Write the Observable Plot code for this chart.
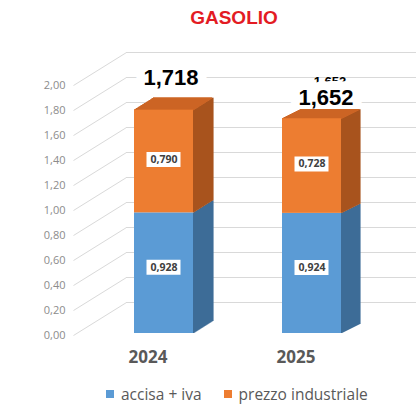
<!DOCTYPE html>
<html>
<head>
<meta charset="utf-8">
<script src="https://cdn.jsdelivr.net/npm/d3@7"></script>
<script src="https://cdn.jsdelivr.net/npm/@observablehq/plot@0.6"></script>
<style>
  html, body { margin: 0; padding: 0; background: #ffffff; }
  #wrap { position: relative; width: 416px; height: 404px; overflow: hidden; font-family: "Open Sans", sans-serif; }
  #title { position: absolute; left: 0; top: 6px; width: 468px; text-align: center; font-family: "Liberation Sans", Arial, sans-serif; font-weight: bold; font-size: 19px; color: #e31b23; line-height: 24px; }
  .layer { position: absolute; left: 0; top: 30px; }
  #legend { position: absolute; left: 106px; top: 384px; display: flex; align-items: center; font-size: 15.5px; color: #595959; line-height: 20px; white-space: nowrap; }
  .item { display: flex; align-items: center; margin-right: 22px; }
  .sw { width: 8px; height: 8px; margin-right: 7px; }
</style>
</head>
<body>
<div id="wrap">
  <div id="title"></div>
  <div id="back" class="layer"></div>
  <div id="front" class="layer"></div>
  <div id="legend"></div>
</div>
<script>
// ---- data ----
const chartTitle = "GASOLIO";
const years = ["2024", "2025"];
const series = ["accisa + iva", "prezzo industriale"];
const accisaIva = [0.928, 0.924];
const prezzoIndustriale = [0.790, 0.728];
const totals = [1.718, 1.652];
const yTicks = [0, 0.2, 0.4, 0.6, 0.8, 1.0, 1.2, 1.4, 1.6, 1.8, 2.0];

// ---- styles ----
const frontColors = ["#5b9bd5", "#ed7d31"];
const sideColors = ["#3d6c97", "#a8531d"];
const topColor = "#cc6524";
const gridColor = "#d9d9d9";
const W = 416, H = 340;

const fmt3 = d => d3.format(".3f")(d).replace(".", ",");
const fmt2 = d => d3.format(".2f")(d).replace(".", ",");

// stacked rows built from the series arrays
const rows = years.flatMap((yr, i) => {
  const a = accisaIva[i], p = prezzoIndustriale[i];
  return [
    {year: yr, series: series[0], value: a, y1: 0, y2: a, mid: a / 2},
    {year: yr, series: series[1], value: p, y1: a, y2: a + p, mid: a + p / 2}
  ];
});
const totalRows = years.map((yr, i) => ({year: yr, total: totals[i]}));

// ---- back layer: axis labels and 3D gridlines ----
const wallDepth = 0.264;
const back = Plot.plot({
  width: W, height: H,
  marginLeft: 126, marginRight: 0, marginTop: 0, marginBottom: 0,
  style: {background: "transparent", fontFamily: "Open Sans"},
  x: {domain: [0, 1], range: [73, 126], axis: null},
  y: {domain: [0, 2], range: [305, 55], axis: null},
  marks: [
    Plot.link(yTicks, {x1: () => 0, x2: () => 1, y1: d => d, y2: d => d + wallDepth, stroke: gridColor, strokeWidth: 1}),
    Plot.ruleY(yTicks, {y: d => d + wallDepth, stroke: gridColor, strokeWidth: 1}),
    Plot.text(yTicks, {x: () => 0, y: d => d, text: fmt2, textAnchor: "end", dx: -8, fill: "#8c8c8c", fontSize: 11})
  ]
});
document.getElementById("back").appendChild(back);

// ---- front layer: 3D bars ----
const bandRange = [44, 431], pad = 0.6;
const bw = (bandRange[1] - bandRange[0]) / (years.length + pad) * (1 - pad);
const depth = {"2024": {dx: 19, dy: 12}, "2025": {dx: 18, dy: 9}};
const totalOffset = {"2024": {dx: 7, dy: -32}, "2025": {dx: 14, dy: -21}};

const marks = [];
// faint hidden duplicate label behind 2025 total (as in the source picture)
marks.push(Plot.text(totalRows.filter(d => d.year === "2025"), {x: "year", y: "total", text: d => fmt3(d.total), dx: 18, dy: -37, fontSize: 13, fontWeight: "bold", fill: "#000000", fontFamily: "Liberation Sans, Arial"}));
// totals with white background box (drawn before the bars so bar tops stay visible)
years.forEach(yr => {
  const o = totalOffset[yr];
  marks.push(Plot.text(totalRows.filter(d => d.year === yr), {
    x: "year", y: "total", text: d => fmt3(d.total), dx: o.dx, dy: o.dy,
    fontSize: 22, fontWeight: "bold", fill: "#000000", stroke: "#ffffff", strokeWidth: 18, strokeLinejoin: "round",
    fontFamily: "Liberation Sans, Arial"
  }));
});
// side faces and top faces (extruded)
years.forEach(yr => {
  const dp = depth[yr];
  const r = dp.dy / dp.dx;
  series.forEach((s, si) => {
    const sub = rows.filter(d => d.year === yr && d.series === s);
    for (let k = 0; k <= dp.dx; k++) {
      marks.push(Plot.ruleX(sub, {x: "year", y1: "y1", y2: "y2", stroke: sideColors[si], strokeWidth: 1.6, dx: bw / 2 + k, dy: -k * r}));
    }
  });
  const tsub = totalRows.filter(d => d.year === yr);
  for (let k = 0; k <= dp.dx; k++) {
    marks.push(Plot.tickY(tsub, {x: "year", y: "total", stroke: topColor, strokeWidth: 1.6, dx: k, dy: -k * r}));
  }
});
// front faces
series.forEach((s, si) => {
  marks.push(Plot.barY(rows.filter(d => d.series === s), {x: "year", y1: "y1", y2: "y2", fill: frontColors[si]}));
});
// segment labels with white boxes
const segDy = [-6, -2];
series.forEach((s, si) => {
  const sub = rows.filter(d => d.series === s);
  marks.push(Plot.tickY(sub, {x: "year", y: "mid", stroke: "#ffffff", strokeWidth: 15, insetLeft: 12.5, insetRight: 12.5, dy: segDy[si]}));
  marks.push(Plot.text(sub, {x: "year", y: "mid", text: d => fmt3(d.value), fill: "#404040", fontSize: 10.5, fontWeight: "bold", fontFamily: "Open Sans", dy: segDy[si]}));
});
// category labels
marks.push(Plot.text(years, {x: d => d, y: () => 0, dy: 24.5, dx: -16, fill: "#595959", fontSize: 17, fontWeight: "bold", fontFamily: "Open Sans"}));

const front = Plot.plot({
  width: W, height: H,
  marginLeft: 0, marginRight: 0, marginTop: 0, marginBottom: 0,
  style: {background: "transparent", fontFamily: "Open Sans", overflow: "visible"},
  x: {domain: years, range: bandRange, padding: pad, axis: null},
  y: {domain: [0, 2], range: [303, 43], axis: null},
  marks
});
document.getElementById("front").appendChild(front);

// ---- title and legend ----
document.getElementById("title").textContent = chartTitle;
const legend = document.getElementById("legend");
series.forEach((s, i) => {
  const it = document.createElement("div");
  it.className = "item";
  const sw = document.createElement("span");
  sw.className = "sw";
  sw.style.background = frontColors[i];
  const tx = document.createElement("span");
  tx.textContent = s;
  it.appendChild(sw); it.appendChild(tx);
  legend.appendChild(it);
});
</script>
</body>
</html>
